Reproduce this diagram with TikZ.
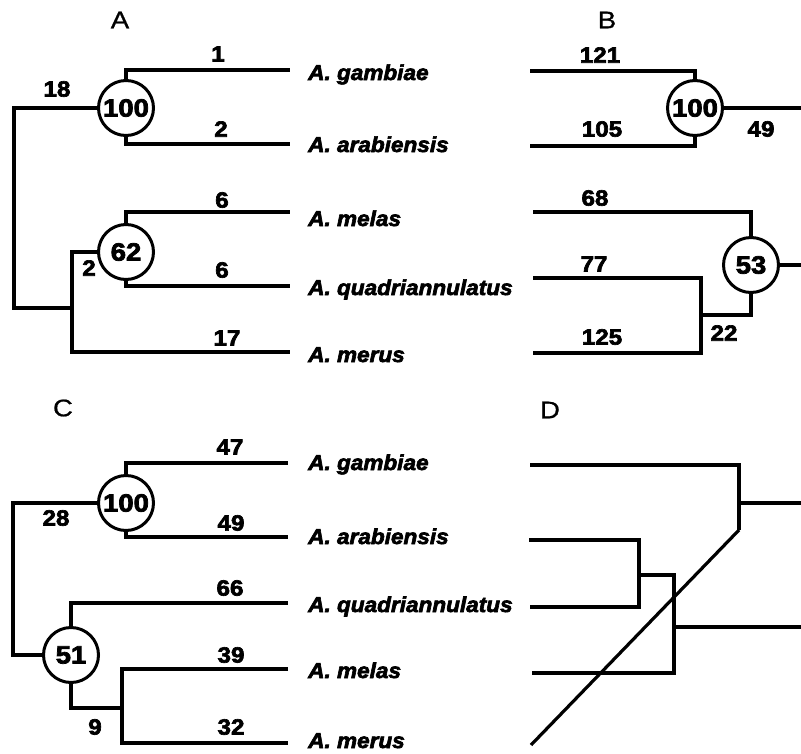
\documentclass[tikz,border=0pt]{standalone}
\usepackage{fontspec}
\setmainfont{Liberation Sans}
\newfontfamily\numfont{Liberation Sans}[FakeStretch=1.1,FakeBold=3]
\newfontfamily\spfont{Liberation Sans}[FakeStretch=1.05,FakeBold=3]
\newfontfamily\panfont{Liberation Sans}[FakeStretch=1.15,FakeBold=0.8]
\begin{document}
\begin{tikzpicture}[x=1pt,y=-1pt,
  br/.style={line width=3.2pt},
  bs/.style={circle,draw,line width=3pt,minimum size=55pt,inner sep=0pt,fill=white,
    font=\numfont\bfseries\fontsize{25}{25}\selectfont},
  num/.style={inner sep=0pt,font=\numfont\bfseries\fontsize{22}{22}\selectfont},
  sp/.style={anchor=base west,inner sep=0pt,font=\spfont\bfseries\itshape\fontsize{21.5}{21.5}\selectfont},
  pan/.style={inner sep=0pt,font=\panfont\fontsize{24}{24}\selectfont}]
\useasboundingbox (0,0) rectangle (801,753);

% ---------- Panel A ----------
\node[pan] (pA) at (120,20) {A};
\node[bs] (a100) at (126,108) {100};
\node[bs] (a62) at (126,252) {62};
\coordinate (aL1) at (290,70);
\coordinate (aL2) at (290,144);
\coordinate (aL3) at (290,212);
\coordinate (aL4) at (290,286);
\coordinate (aL5) at (290,352);
\coordinate (aroot) at (14,308);
\coordinate (ain) at (72,308);
\draw[br] (a100) |- (aL1);
\draw[br] (a100) |- (aL2);
\draw[br] (a100) -| (aroot) -- (ain);
\draw[br] (a62) -| (ain) |- (aL5);
\draw[br] (a62) |- (aL3);
\draw[br] (a62) |- (aL4);
\node[num] (an1) at (218,54) {1};
\node[num] (an18) at (57,89) {18};
\node[num] (an2) at (221,129) {2};
\node[num] (an6a) at (222,200) {6};
\node[num] (an6b) at (222,270) {6};
\node[num] (an2b) at (89,268) {2};
\node[num] (an17) at (227,338) {17};
\node[sp] (aT1) at (308,80) {A. gambiae};
\node[sp] (aT2) at (308,152) {A. arabiensis};
\node[sp] (aT3) at (308,226) {A. melas};
\node[sp] (aT4) at (308,295) {A. quadriannulatus};
\node[sp] (aT5) at (308,362) {A. merus};

% ---------- Panel B ----------
\node[pan] (pB) at (607,20) {B};
\node[bs] (b100) at (695,108) {100};
\node[bs] (b53) at (751,265) {53};
\coordinate (bL1) at (530,71);
\coordinate (bL2) at (530,146);
\coordinate (bL3) at (533,212);
\coordinate (bL4) at (533,278);
\coordinate (bL5) at (533,353);
\coordinate (bR1) at (801,108);
\coordinate (bR2) at (801,265);
\coordinate (bin) at (701,315);
\draw[br] (b100) |- (bL1);
\draw[br] (b100) |- (bL2);
\draw[br] (b100) -- (bR1);
\draw[br] (b53) |- (bL3);
\draw[br] (b53) -- (bR2);
\draw[br] (b53) |- (bin);
\draw[br] (bL4) -| (bin) |- (bL5);
\node[num] (bn121) at (600,55) {121};
\node[num] (bn105) at (602,129) {105};
\node[num] (bn49) at (761,129) {49};
\node[num] (bn68) at (595,198) {68};
\node[num] (bn77) at (594,264) {77};
\node[num] (bn125) at (602,337) {125};
\node[num] (bn22) at (724,333) {22};

% ---------- Panel C ----------
\node[pan] (pC) at (63,408) {C};
\node[bs] (c100) at (126,503) {100};
\node[bs] (c51) at (71,655) {51};
\coordinate (cL1) at (288,463);
\coordinate (cL2) at (288,537);
\coordinate (cL3) at (288,603);
\coordinate (cL4) at (288,669);
\coordinate (cL5) at (288,743);
\coordinate (croot) at (13,655);
\coordinate (cin) at (122,708);
\draw[br] (c100) |- (cL1);
\draw[br] (c100) |- (cL2);
\draw[br] (c100) -| (croot) -- (c51);
\draw[br] (c51) |- (cL3);
\draw[br] (c51) |- (cin);
\draw[br] (cL4) -| (cin) |- (cL5);
\node[num] (cn47) at (230,447) {47};
\node[num] (cn28) at (56,518) {28};
\node[num] (cn49) at (231,523) {49};
\node[num] (cn66) at (230,588) {66};
\node[num] (cn39) at (231,655) {39};
\node[num] (cn9) at (95,727) {9};
\node[num] (cn32) at (231,727) {32};
\node[sp] (cT1) at (308,470) {A. gambiae};
\node[sp] (cT2) at (308,544) {A. arabiensis};
\node[sp] (cT3) at (308,612) {A. quadriannulatus};
\node[sp] (cT4) at (308,678) {A. melas};
\node[sp] (cT5) at (308,748) {A. merus};

% ---------- Panel D ----------
\node[pan] (pD) at (550,410) {D};
\coordinate (dL1) at (530,465);
\coordinate (dL2) at (529,540);
\coordinate (dL3) at (530,607);
\coordinate (dL4) at (532,673);
\coordinate (dn1) at (739,503);
\coordinate (dR1) at (801,503);
\coordinate (dn2) at (639,575);
\coordinate (dn3) at (674,627);
\coordinate (dR2) at (801,627);
\coordinate (dtail) at (739,530);
\coordinate (dend) at (531,745);
\draw[br] (dL1) -| (dtail);
\draw[br] (dn1) -- (dR1);
\draw[br] (dL2) -| (dn2) |- (dL3);
\draw[br] (dn2) -| (dn3) |- (dL4);
\draw[br] (dn3) -- (dR2);
\draw[br] (dtail) -- (dend);
\end{tikzpicture}
\end{document}
